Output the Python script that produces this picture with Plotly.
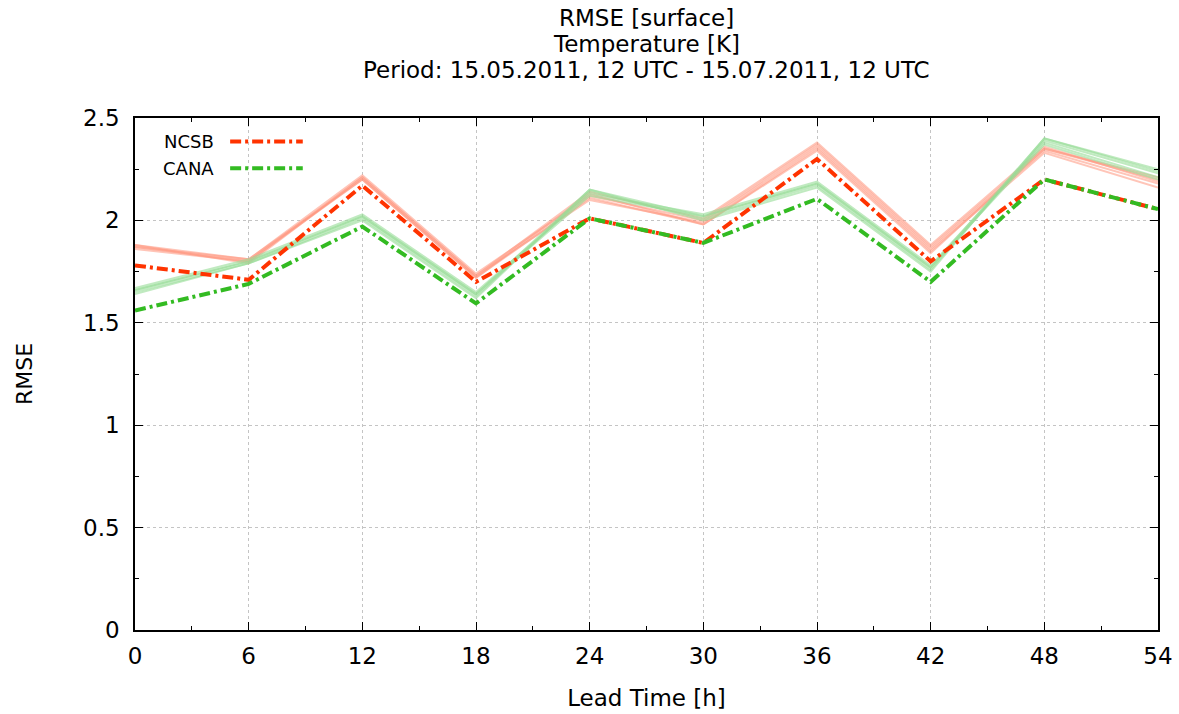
import plotly.graph_objects as go

lead_time = [0, 6, 12, 18, 24, 30, 36, 42, 48, 54]

ncsb = [1.78, 1.71, 2.17, 1.70, 2.01, 1.89, 2.30, 1.80, 2.20, 2.055]
cana = [1.56, 1.69, 1.97, 1.595, 2.01, 1.89, 2.105, 1.70, 2.20, 2.055]

ncsb_members = [
    [1.88, 1.81, 2.22, 1.74, 2.12, 2.00, 2.37, 1.87, 2.35, 2.21],
    [1.87, 1.80, 2.21, 1.73, 2.10, 1.99, 2.36, 1.86, 2.34, 2.18],
    [1.86, 1.80, 2.20, 1.72, 2.13, 1.98, 2.35, 1.85, 2.33, 2.16],
    [1.88, 1.79, 2.21, 1.73, 2.14, 2.01, 2.38, 1.88, 2.36, 2.19],
    [1.87, 1.81, 2.20, 1.72, 2.11, 1.98, 2.34, 1.84, 2.35, 2.20],
]
cana_members = [
    [1.66, 1.80, 2.02, 1.64, 2.15, 2.02, 2.18, 1.77, 2.40, 2.25],
    [1.65, 1.79, 2.01, 1.63, 2.14, 2.01, 2.17, 1.76, 2.39, 2.23],
    [1.67, 1.81, 2.03, 1.65, 2.13, 2.03, 2.19, 1.78, 2.38, 2.21],
    [1.64, 1.79, 2.00, 1.62, 2.15, 2.00, 2.16, 1.75, 2.40, 2.24],
    [1.66, 1.80, 2.02, 1.64, 2.12, 2.02, 2.18, 1.77, 2.37, 2.20],
]

x_ticks = [0, 6, 12, 18, 24, 30, 36, 42, 48, 54]
y_ticks = [0, 0.5, 1, 1.5, 2, 2.5]
y_tick_text = ["0", "0.5", "1", "1.5", "2", "2.5"]
title_lines = ["RMSE [surface]", "Temperature [K]",
               "Period: 15.05.2011, 12 UTC - 15.07.2011, 12 UTC"]

RED = "#ff3300"
GREEN = "#33bb22"
LIGHT_RED = "rgba(255,150,125,0.55)"
LIGHT_GREEN = "rgba(150,220,150,0.6)"
DASH = "11px,4px,3px,4px"
FONT = "DejaVu Sans, Liberation Sans, sans-serif"

fig = go.Figure()
for m in ncsb_members:
    fig.add_trace(go.Scatter(x=lead_time, y=m, mode="lines", showlegend=False,
                             line=dict(color=LIGHT_RED, width=2), hoverinfo="skip"))
for m in cana_members:
    fig.add_trace(go.Scatter(x=lead_time, y=m, mode="lines", showlegend=False,
                             line=dict(color=LIGHT_GREEN, width=2), hoverinfo="skip"))
fig.add_trace(go.Scatter(x=lead_time, y=ncsb, mode="lines", name="NCSB", showlegend=False,
                         line=dict(color=RED, width=4, dash=DASH)))
fig.add_trace(go.Scatter(x=lead_time, y=cana, mode="lines", name="CANA", showlegend=False,
                         line=dict(color=GREEN, width=4, dash=DASH)))

# manual legend (text left of sample line, like the original)
legend_items = [("NCSB", RED), ("CANA", GREEN)]
for i, (name, col) in enumerate(legend_items):
    yp = 0.954 - i * 0.052
    fig.add_annotation(xref="paper", yref="paper", x=0.079, y=yp, text=name,
                       showarrow=False, xanchor="right", yanchor="middle",
                       font=dict(family=FONT, size=18, color="black"))
    fig.add_shape(type="line", xref="paper", yref="paper", x0=0.093, x1=0.164,
                  y0=yp, y1=yp, line=dict(color=col, width=4, dash=DASH))

# three-line title, each line placed separately
for i, line in enumerate(title_lines):
    fig.add_annotation(xref="paper", yref="paper", x=0.5, y=1.195 - i * 0.0508,
                       text=line, showarrow=False, xanchor="center", yanchor="middle",
                       font=dict(family=FONT, size=23, color="black"))

axis_common = dict(showline=True, linecolor="black", linewidth=1.5, mirror="allticks",
                   ticks="inside", ticklen=8, tickcolor="black", tickwidth=1,
                   showgrid=True, gridcolor="#c4c4c4", griddash="dot", gridwidth=1,
                   zeroline=False, tickfont=dict(family=FONT, size=23, color="black"))

fig.update_xaxes(range=[0, 54], tickvals=x_ticks, ticktext=[str(v) for v in x_ticks],
                 ticklabelstandoff=5,
                 minor=dict(dtick=3, ticks="inside", ticklen=4, tickcolor="black", showgrid=False),
                 title=dict(text="Lead Time [h]", font=dict(family=FONT, size=23, color="black"),
                            standoff=22),
                 **axis_common)
fig.update_yaxes(range=[0, 2.5], tickvals=y_ticks, ticktext=y_tick_text,
                 ticklabelstandoff=9,
                 minor=dict(dtick=0.25, ticks="inside", ticklen=4, tickcolor="black", showgrid=False),
                 title=dict(text="RMSE", font=dict(family=FONT, size=22, color="black"),
                            standoff=44),
                 **axis_common)

fig.update_layout(
    width=1179, height=714,
    margin=dict(l=135, r=21, t=118, b=84, autoexpand=False),
    paper_bgcolor="white", plot_bgcolor="white",
    showlegend=False,
)

fig.write_html("out.html", config={"displayModeBar": False},
               post_script="document.body.style.margin='0';document.body.style.padding='0';")
